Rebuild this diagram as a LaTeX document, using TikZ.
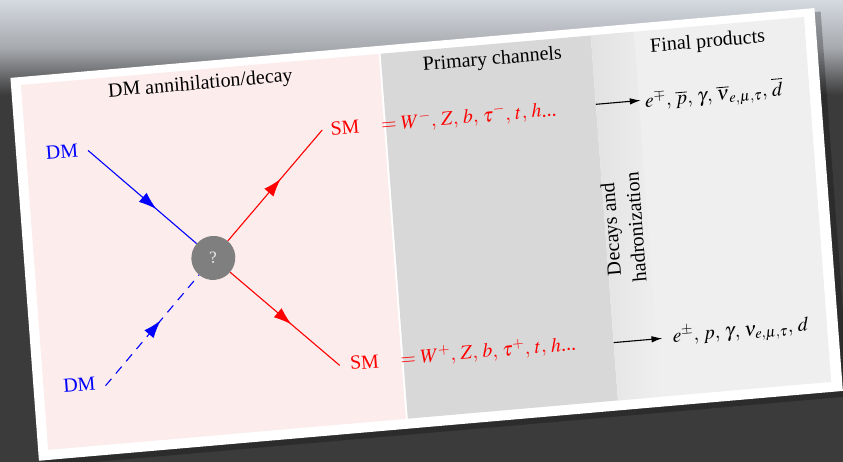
\documentclass[tikz,border=0pt]{standalone}
\usepackage{mathptmx}
\usepackage{fontspec}
\setmainfont{Liberation Serif}
\usetikzlibrary{arrows.meta,decorations.markings}
\definecolor{bgdark}{HTML}{3B3B3B}
\definecolor{toplight}{HTML}{D5DAE1}
\definecolor{pinkbg}{HTML}{FCECEC}
\definecolor{greybg}{HTML}{D8D8D8}
\definecolor{lightbg}{HTML}{EFEFEF}
\definecolor{foldbg}{HTML}{E2E2E2}
\definecolor{qgrey}{HTML}{7F7F7F}
\newcommand{\cs}{\mskip 2mu}
\tikzset{
  hdr/.style={font=\fontsize{20}{24}\selectfont, inner sep=0pt, text=black},
  lbl/.style={font=\fontsize{20}{24}\selectfont, inner sep=0pt},
  prop/.style={line width=1.1pt},
  midarrow/.style={postaction={decorate}, decoration={markings,
     mark=at position #1 with {\arrow{Latex[length=18pt,width=12pt]}}}},
  decayarrow/.style={line width=1.1pt, -{Latex[length=11pt,width=6.5pt]}}
}
\begin{document}
\begin{tikzpicture}[x=1pt,y=1pt]
\useasboundingbox (0,0) rectangle (843,-462);
\fill[bgdark] (0,0) rectangle (843,-462);
\shade[top color=toplight, bottom color=bgdark, middle color=toplight!70!bgdark] (0,0) rectangle (843,-95);
\begin{scope}[cm={0.9962,0.0865,-0.0742,0.997,(21pt,-85pt)}, transform shape]
  % card
  \fill[black, opacity=0.25] (-4,4) rectangle (803,-382);
  \fill[white] (-10,8) rectangle (797,-376);
  \fill[pinkbg] (0,0) rectangle (359,-366);
  \fill[greybg] (361,0) rectangle (572,-366);
  \fill[lightbg] (572,0) rectangle (786,-366);
  \shade[left color=foldbg, right color=lightbg] (572,0) rectangle (615,-366);
  % headers
  \node[hdr] (t1) at (179,-15) {DM annihilation/decay};
  \node[hdr] (t2) at (472,-16) {Primary channels};
  \node[hdr] (t3) at (688,-17) {Final products};
  % diagram
  \coordinate (a1) at (62,-71);
  \coordinate (a2) at (62,-307);
  \coordinate (b1) at (297,-71);
  \coordinate (b2) at (297,-307);
  \node[circle, fill=qgrey, minimum size=44pt, inner sep=0pt,
        text=white!92!black, font=\fontsize{17}{20}\selectfont] (q) at (179,-189) {?};
  \draw[blue, prop, midarrow=0.63] (a1) -- (q);
  \draw[blue, prop, dash pattern=on 9pt off 7pt, midarrow=0.59] (a2) -- (q);
  \draw[red, prop, midarrow=0.56] (q) -- (b1);
  \draw[red, prop, midarrow=0.56] (q) -- (b2);
  \node[lbl, text=blue] (dm1) at (36,-70) {DM};
  \node[lbl, text=blue] (dm2) at (36,-304) {DM};
  \node[lbl, text=red] (sm1) at (320,-71) {SM};
  \node[lbl, text=red] (sm2) at (322,-306) {SM};
  % primary channels
  \node[lbl, text=red, anchor=base west] (f1) at (356,-77) {$=W^{-},\cs Z,\cs b,\cs \tau^{-},\cs t,\cs h$...};
  \node[lbl, text=red, anchor=base west] (f2) at (358,-312) {$=W^{+},\cs Z,\cs b,\cs \tau^{+},\cs t,\cs h$...};
  % decays
  \node[lbl, rotate=90, align=center, font=\fontsize{20}{25}\selectfont] (dh) at (590,-195) {Decays and\\hadronization};
  % final products
  \coordinate (c1) at (572,-69);
  \coordinate (c1e) at (617,-69);
  \coordinate (c2) at (572,-308);
  \coordinate (c2e) at (621,-308);
  \draw[decayarrow] (c1) -- (c1e);
  \draw[decayarrow] (c2) -- (c2e);
  \node[lbl, anchor=base west] (p1) at (621,-76) {$e^{\mp},\, \overline{p},\, \gamma,\, \overline{\nu}_{e,\mu,\tau},\, \overline{d}$};
  \node[lbl, anchor=base west] (p2) at (631,-313) {$e^{\pm},\, p,\, \gamma,\, \nu_{e,\mu,\tau},\, d$};
\end{scope}
\end{tikzpicture}
\end{document}
